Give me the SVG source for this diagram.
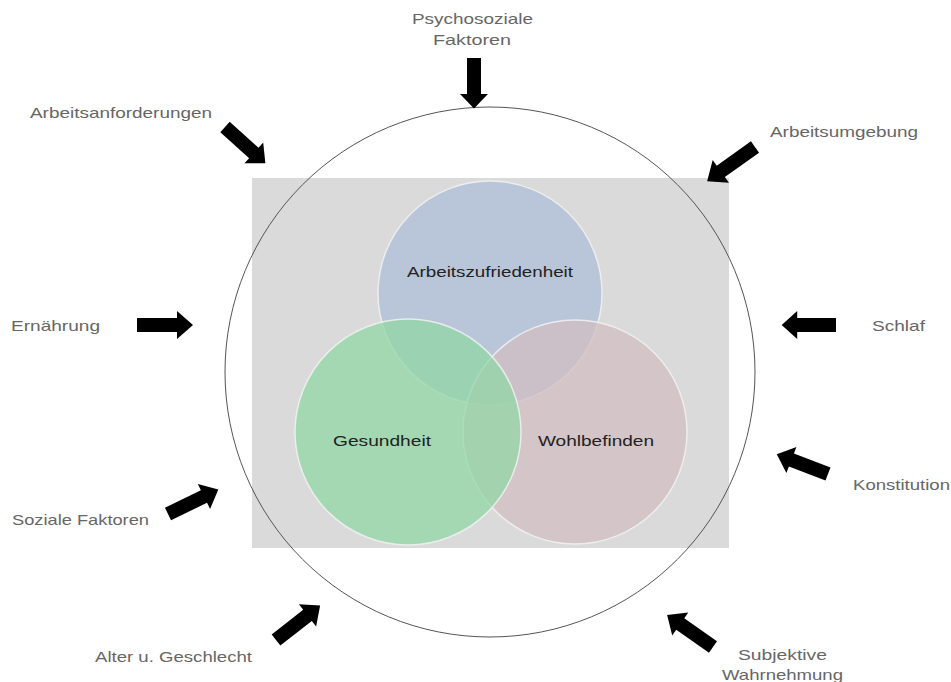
<svg xmlns="http://www.w3.org/2000/svg" width="951" height="682" viewBox="0 0 951 682">
<style>
.lbl{font-family:"Liberation Sans",Arial,sans-serif;font-size:15px;fill:#666}
.in{font-family:"Liberation Sans",Arial,sans-serif;font-size:15px;fill:#222}
.arr{fill:#000}
.v{stroke:#f4f4f4;stroke-width:1.5;stroke-opacity:0.8}
</style>
<defs>
<polygon id="ar" class="arr" points="0,-7 40,-7 40,-14 56,0 40,14 40,7 0,7"/>
</defs>
<rect width="951" height="682" fill="#fff"/>
<g id="frame">
<rect x="252" y="178" width="477" height="370" fill="#dadada"/>
</g>
<g id="venn">
<g id="arbeitszufriedenheit">
<circle class="v" cx="490" cy="293" r="112" fill="#adbdd7" fill-opacity="0.75"/>
</g>
<g id="wohlbefinden">
<circle class="v" cx="575" cy="432" r="112" fill="#d1bdc1" fill-opacity="0.75"/>
</g>
<g id="gesundheit">
<circle class="v" cx="408" cy="432" r="113" fill="#91d7a6" fill-opacity="0.75"/>
</g>
<text class="in" x="407" y="277" textLength="166" lengthAdjust="spacingAndGlyphs">Arbeitszufriedenheit</text>
<text class="in" x="333" y="446" textLength="98" lengthAdjust="spacingAndGlyphs">Gesundheit</text>
<text class="in" x="538" y="446" textLength="116" lengthAdjust="spacingAndGlyphs">Wohlbefinden</text>
</g>
<g id="outer-circle">
<circle cx="490" cy="372" r="265" fill="none" stroke="#555" stroke-width="1"/>
</g>
<g id="connectors">
<use href="#ar" transform="translate(474,58) rotate(90) scale(0.9,1)"/>
<use href="#ar" transform="translate(225,127) rotate(42) scale(0.97,1)"/>
<use href="#ar" transform="translate(755,147) rotate(144.5) scale(1.05,1)"/>
<use href="#ar" transform="translate(137,325)"/>
<use href="#ar" transform="translate(836,325) rotate(180) scale(0.97,1)"/>
<use href="#ar" transform="translate(168,514) rotate(-26) scale(1.0,1)"/>
<use href="#ar" transform="translate(828,474) rotate(201) scale(0.98,1)"/>
<use href="#ar" transform="translate(276,640) rotate(-38) scale(1.0,1)"/>
<use href="#ar" transform="translate(713,647) rotate(215) scale(1.0,1)"/>
</g>
<g id="labels">
<g id="psychosoziale"><text class="lbl" x="412" y="24" textLength="121" lengthAdjust="spacingAndGlyphs">Psychosoziale</text><text class="lbl" x="433" y="45" textLength="78" lengthAdjust="spacingAndGlyphs">Faktoren</text></g>
<g id="arbeitsanforderungen"><text class="lbl" x="30" y="118" textLength="182" lengthAdjust="spacingAndGlyphs">Arbeitsanforderungen</text></g>
<g id="arbeitsumgebung"><text class="lbl" x="770" y="137" textLength="148" lengthAdjust="spacingAndGlyphs">Arbeitsumgebung</text></g>
<g id="ernaehrung"><text class="lbl" x="11" y="331" textLength="89" lengthAdjust="spacingAndGlyphs">Ernährung</text></g>
<g id="schlaf"><text class="lbl" x="872" y="331" textLength="53" lengthAdjust="spacingAndGlyphs">Schlaf</text></g>
<g id="soziale"><text class="lbl" x="12" y="525" textLength="137" lengthAdjust="spacingAndGlyphs">Soziale Faktoren</text></g>
<g id="konstitution"><text class="lbl" x="853" y="490" textLength="97" lengthAdjust="spacingAndGlyphs">Konstitution</text></g>
<g id="alter"><text class="lbl" x="95" y="662" textLength="157" lengthAdjust="spacingAndGlyphs">Alter u. Geschlecht</text></g>
<g id="subjektive"><text class="lbl" x="738" y="660" textLength="89" lengthAdjust="spacingAndGlyphs">Subjektive</text><text class="lbl" x="722" y="680" textLength="121" lengthAdjust="spacingAndGlyphs">Wahrnehmung</text></g>
</g>
</svg>
